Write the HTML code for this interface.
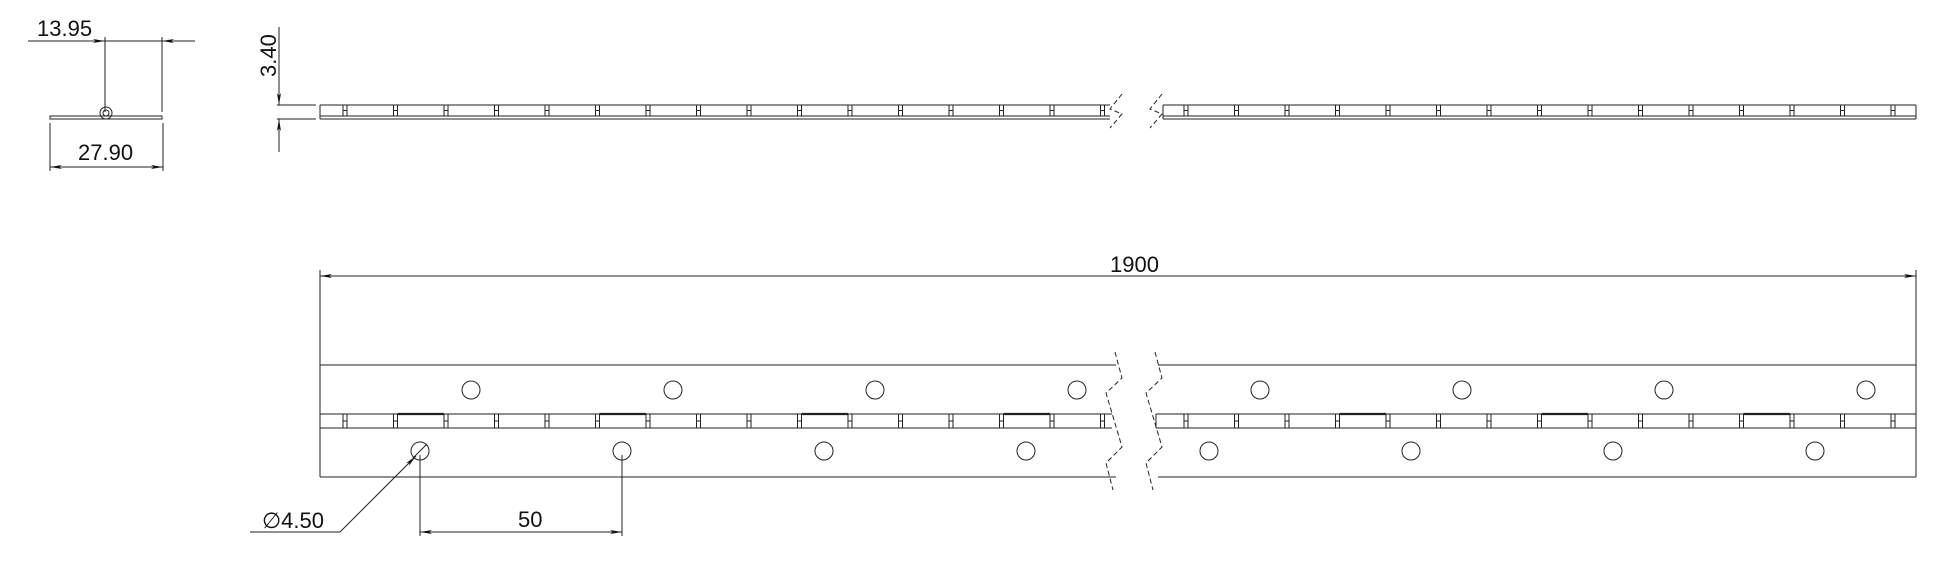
<!DOCTYPE html>
<html><head><meta charset="utf-8">
<style>
html,body{margin:0;padding:0;background:#fff;}
svg{display:block;}
text{font-family:"Liberation Sans",sans-serif;fill:#111;}
</style></head>
<body>
<svg id="s" width="1946" height="578" viewBox="0 0 1946 578" xmlns="http://www.w3.org/2000/svg">
<defs>
<marker id="a" viewBox="0 0 12 4" refX="12" refY="2" markerWidth="12" markerHeight="4" orient="auto" markerUnits="userSpaceOnUse"><path d="M0,0 L12,2 L0,4 L3,2z" fill="#111"/></marker>
</defs>
<g stroke="#222" stroke-width="1" fill="none" id="g">
<line x1="28" y1="41" x2="105" y2="41" marker-end="url(#a)"/>
<line x1="195" y1="41" x2="162" y2="41" marker-end="url(#a)"/>
<line x1="105" y1="41" x2="162" y2="41"/>
<line x1="105" y1="37" x2="105" y2="112"/>
<line x1="162" y1="37" x2="162" y2="112"/>
<rect x="50" y="116" width="112" height="3"/>
<circle cx="106" cy="113" r="6"/>
<circle cx="106" cy="113" r="3"/>
<line x1="50" y1="123" x2="50" y2="171"/>
<line x1="163" y1="123" x2="163" y2="171"/>
<line x1="107" y1="167" x2="50" y2="167" marker-end="url(#a)"/>
<line x1="107" y1="167" x2="163" y2="167" marker-end="url(#a)"/>
<line x1="279" y1="27" x2="279" y2="105" marker-end="url(#a)"/>
<line x1="279" y1="152" x2="279" y2="119" marker-end="url(#a)"/>
<line x1="277" y1="105" x2="316" y2="105"/>
<line x1="277" y1="119" x2="316" y2="119"/>
<line x1="1118" y1="276" x2="320" y2="276" marker-end="url(#a)"/>
<line x1="1118" y1="276" x2="1916" y2="276" marker-end="url(#a)"/>
<line x1="320" y1="270" x2="320" y2="365"/>
<line x1="1916" y1="270" x2="1916" y2="365"/>
<line x1="420" y1="455" x2="420" y2="536"/>
<line x1="622" y1="455" x2="622" y2="536"/>
<line x1="521" y1="532" x2="420" y2="532" marker-end="url(#a)"/>
<line x1="521" y1="532" x2="622" y2="532" marker-end="url(#a)"/>
<line x1="250" y1="532" x2="340" y2="532"/>
<line x1="340" y1="532" x2="416" y2="456" marker-end="url(#a)"/>
<line x1="413" y1="458" x2="427" y2="444"/>
</g>
<text x="37" y="36" font-size="22">13.95</text>
<text x="78" y="160" font-size="22">27.90</text>
<text transform="translate(276,77) rotate(-90)" font-size="22">3.40</text>
<text x="1110" y="272" font-size="22">1900</text>
<text x="518" y="527" font-size="22">50</text>
<text x="262" y="528" font-size="22">∅4.50</text>
</svg>
<script>
var g=document.getElementById('g'),N='http://www.w3.org/2000/svg';
function L(x1,y1,x2,y2,w,d){var e=document.createElementNS(N,'line');e.setAttribute('x1',x1);e.setAttribute('y1',y1);e.setAttribute('x2',x2);e.setAttribute('y2',y2);if(w)e.setAttribute('stroke-width',w);if(d)e.setAttribute('stroke-dasharray',d);g.appendChild(e);}
function C(x,y){var e=document.createElementNS(N,'circle');e.setAttribute('cx',x);e.setAttribute('cy',y);e.setAttribute('r',9);g.appendChild(e);}
function P(pts){var e=document.createElementNS(N,'polyline');e.setAttribute('points',pts);e.setAttribute('stroke-dasharray','5,3');g.appendChild(e);}
var P1=50.5;
function knuckles(x0,x1,yt,yb,ypl,startMark,idx0,thick){
  L(x0,yt,x1,yt);L(x0,yb,x1,yb);
  if(ypl){L(x0,ypl,x1,ypl);}
  L(x0,yt,x0,ypl||yb);
  var i=idx0;
  for(var m=startMark;m<x1;m+=P1){
    L(m-2,yt,m-2,yb);L(m+2,yt,m+2,yb);L(m-2,(yt+yb)/2,m+2,(yt+yb)/2);
    if(thick && i%4==0 && m+P1<x1) L(m+2,yt,m+P1-2,yt,2.2);
    i++;
  }
}
knuckles(320,1110,105,116,119,345,3,false);
knuckles(1163,1916,105,116,119,1186,1,false);
L(1916,105,1916,119);
L(320,365,1116,365);L(1158,365,1916,365);
L(320,477,1116,477);L(1158,477,1916,477);
L(320,365,320,477);L(1916,365,1916,477);
knuckles(320,1112,414,428,0,345,3,true);
knuckles(1156,1916,414,428,0,1186,1,true);
function brk(dx){P((1115+dx)+',352 '+(1122+dx)+',378 '+(1106+dx)+',393 '+(1122+dx)+',447 '+(1106+dx)+',463 '+(1113+dx)+',490');}
brk(0);brk(40);
function tbrk(dx){P((1122+dx)+',94 '+(1110+dx)+',109 '+(1122+dx)+',114 '+(1110+dx)+',128');}
tbrk(0);tbrk(40);
[471,673,875,1077,1260,1462,1664,1866].forEach(function(x){C(x,390);});
[420,622,824,1026,1209,1411,1613,1815].forEach(function(x){C(x,451);});
</script>
</body></html>
